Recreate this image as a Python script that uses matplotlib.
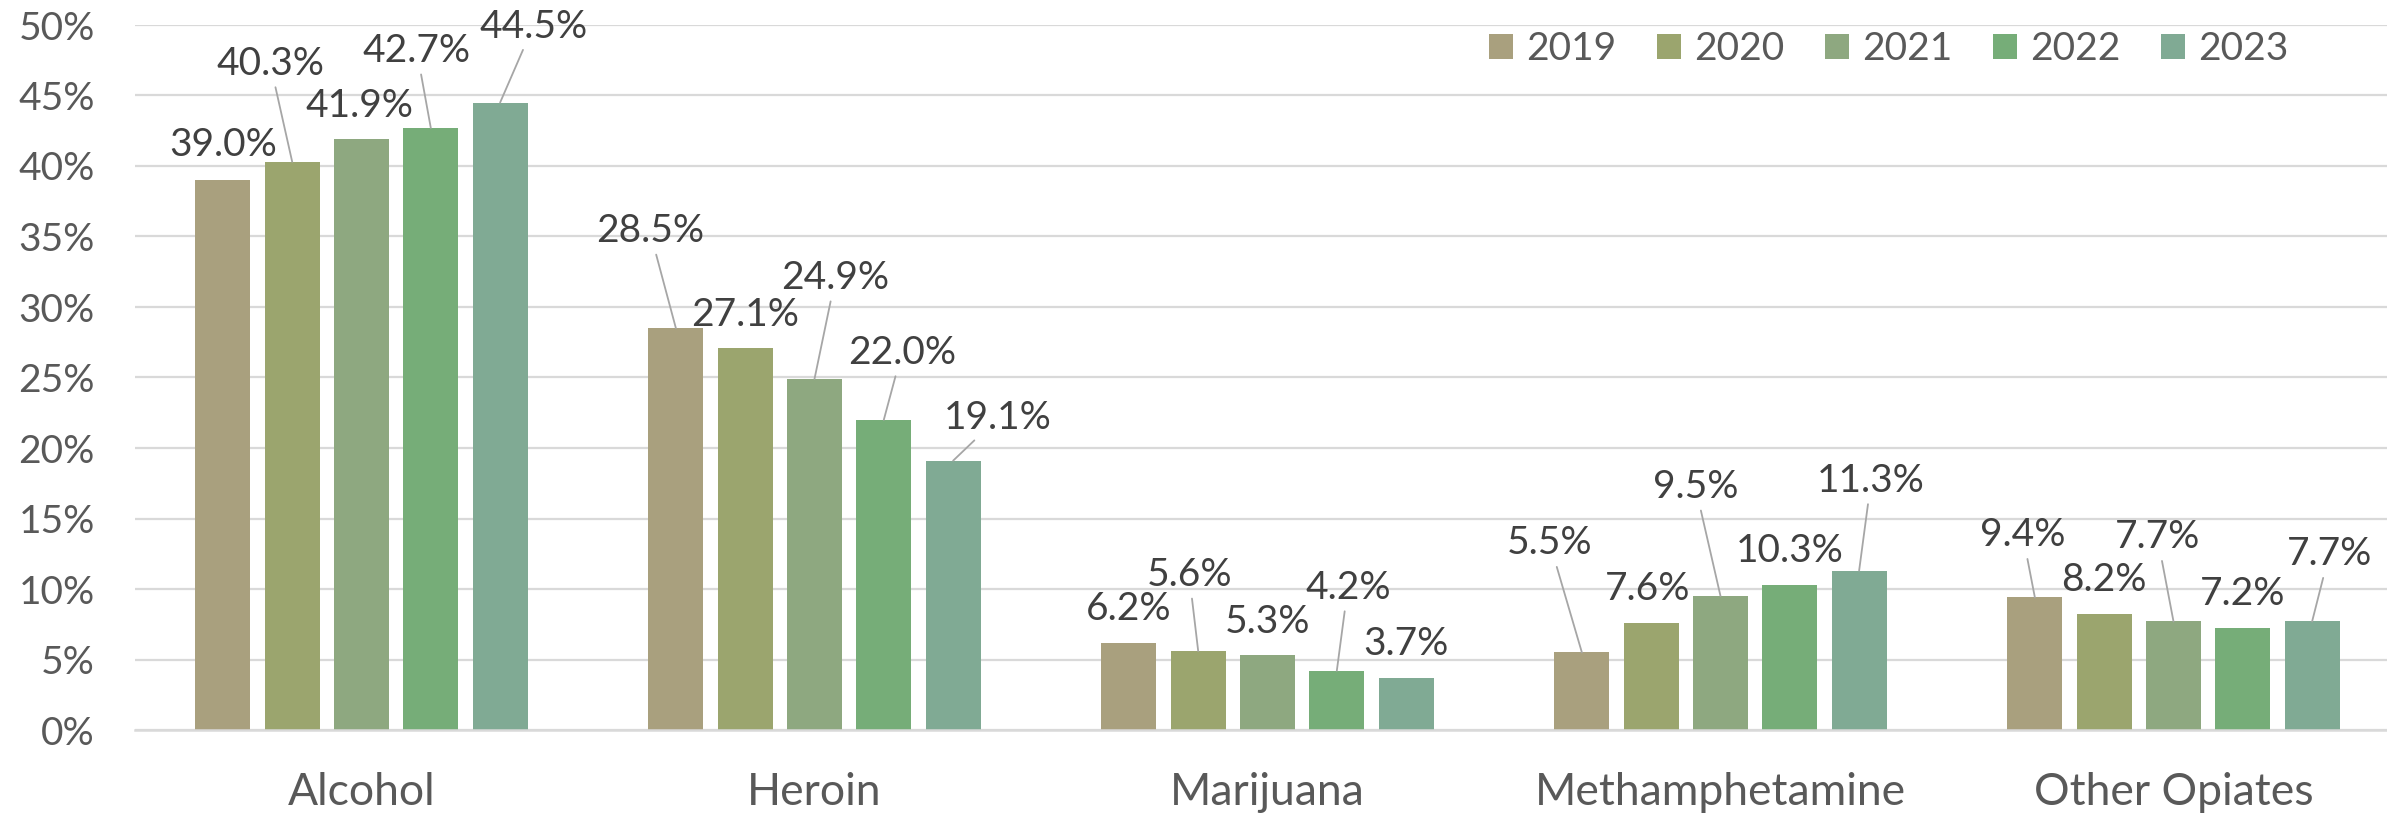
import numpy as np
import matplotlib
matplotlib.use("Agg")
import matplotlib.pyplot as plt
from matplotlib.patches import Patch
from matplotlib.ticker import PercentFormatter

# data
categories = ["Alcohol", "Heroin", "Marijuana", "Methamphetamine", "Other Opiates"]
years = ["2019", "2020", "2021", "2022", "2023"]
values_2019 = [39.0, 28.5, 6.2, 5.5, 9.4]
values_2020 = [40.3, 27.1, 5.6, 7.6, 8.2]
values_2021 = [41.9, 24.9, 5.3, 9.5, 7.7]
values_2022 = [42.7, 22.0, 4.2, 10.3, 7.2]
values_2023 = [44.5, 19.1, 3.7, 11.3, 7.7]
series = [values_2019, values_2020, values_2021, values_2022, values_2023]

colors = ["#A9A07E", "#9BA56E", "#8EA880", "#76AD78", "#80AA94"]

# label offsets in pixels (dx, dy) from bar top, per year then category
label_offsets = [
    [(0, 35), (-26, 97), (0, 34), (-32, 109), (-12, 62)],
    [(-22, 98), (0, 33), (-9, 76), (-4, 34), (0, 34)],
    [(-2, 33), (21, 101), (0, 33), (-25, 109), (-16, 84)],
    [(-14, 77), (18, 67), (11, 83), (0, 34), (0, 34)],
    [(33, 76), (45, 43), (0, 34), (12, 90), (17, 67)],
]

plt.rcParams['font.family'] = ['Lato', 'DejaVu Sans']

W, H = 2387, 822
fig = plt.figure(figsize=(W / 100, H / 100), dpi=100)
left, right = 135, W
bottom, top = 730, 25
ax = fig.add_axes([left / W, 1 - bottom / H, (right - left) / W, (bottom - top) / H])

x = np.arange(len(categories))
step = 0.153
width = 0.121
grid_color = "#D9D9D9"

for i, vals in enumerate(series):
    pos = x + (i - 2) * step
    ax.bar(pos, vals, width=width, color=colors[i], zorder=2)
    for j, v in enumerate(vals):
        dx, dy = label_offsets[i][j]
        arrow = None
        if dy > 40:
            arrow = dict(arrowstyle="-", color="#A6A6A6", lw=1.3,
                         shrinkA=2, shrinkB=0)
        ax.annotate(f"{v:.1f}%", xy=(pos[j], v), xytext=(dx, dy),
                    textcoords="offset pixels", ha="center", va="center",
                    fontsize=28, color="#404040", arrowprops=arrow, zorder=4,
                    annotation_clip=False)

ax.set_xlim(-0.5, -0.5 + (right - left) / 453)
ax.set_ylim(0, 50)
ax.set_yticks(np.arange(0, 51, 5))
ax.yaxis.set_major_formatter(PercentFormatter(decimals=0))
ax.set_xticks(x)
ax.set_xticklabels(categories)

ax.grid(axis="y", color=grid_color, lw=1.6, zorder=0)
for s in ["top", "right", "left"]:
    ax.spines[s].set_visible(False)
ax.spines["bottom"].set_color(grid_color)
ax.spines["bottom"].set_linewidth(1.8)

ax.tick_params(axis="y", length=0, pad=29, labelsize=28, labelcolor="#595959")
ax.tick_params(axis="x", length=0, pad=30, labelsize=32, labelcolor="#595959")

handles = [Patch(facecolor=c, label=y) for c, y in zip(colors, years)]
fig.legend(handles=handles, loc="center", bbox_to_anchor=(1889 / W, 1 - 49 / H),
           ncol=5, frameon=False, fontsize=28, handlelength=0.6, handleheight=0.6,
           handletextpad=0.35, columnspacing=1.05, labelcolor="#595959")

fig.savefig("out.png", dpi=100)
